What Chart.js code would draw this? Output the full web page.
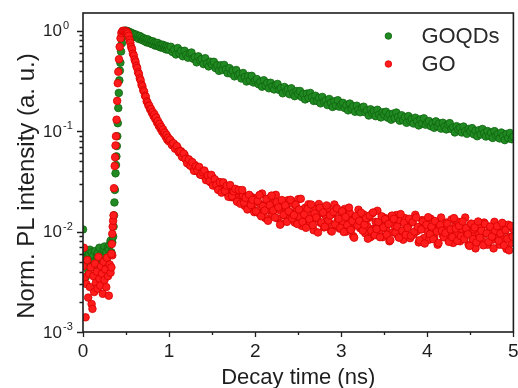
<!DOCTYPE html>
<html>
<head>
<meta charset="utf-8">
<script src="https://cdn.jsdelivr.net/npm/chart.js@4.4.1/dist/chart.umd.min.js"></script>
<style>
  html, body { margin: 0; padding: 0; background: #fff; }
  #wrap { width: 518px; height: 388px; position: relative; }
</style>
</head>
<body>
<div id="wrap"><canvas id="plChart"></canvas></div>
<script>
/* global Chart */

// ---- data (time in ns, normalised PL intensity) ----
var seriesNames = ["GOQDs", "GO"];

var baseTime = [
  0.00, 0.01, 0.02, 0.03, 0.04, 0.05, 0.06, 0.07, 0.08, 0.09,
  0.10, 0.11, 0.12, 0.13, 0.14, 0.15, 0.16, 0.17, 0.18, 0.19,
  0.20, 0.21, 0.22, 0.23, 0.24, 0.25, 0.26, 0.27, 0.28, 0.29,
  0.30, 0.31, 0.32, 0.33, 0.34
];
var goqdsBase = [
  0.0105, 0.0062, 0.0048, 0.0035, 0.0064, 0.0055, 0.0041, 0.0060, 0.0066, 0.0052,
  0.0062, 0.0045, 0.0058, 0.0050, 0.0064, 0.0043, 0.0057, 0.0061, 0.0048, 0.0069,
  0.0054, 0.0059, 0.0047, 0.0052, 0.0066, 0.0071, 0.0058, 0.0063, 0.0050, 0.0069,
  0.0066, 0.0074, 0.0081, 0.0062, 0.0078
];
var goBase = [
  0.0045, 0.0069, 0.0035, 0.0014, 0.0030, 0.0052, 0.0022, 0.0038, 0.0028, 0.0044,
  0.0019, 0.0017, 0.0036, 0.0025, 0.0048, 0.0031, 0.0040, 0.0027, 0.0056, 0.0034,
  0.0029, 0.0045, 0.0038, 0.0024, 0.0050, 0.0033, 0.0042, 0.0028, 0.0055, 0.0036,
  0.0023, 0.0047, 0.0039, 0.0044, 0.0058
];

var goqdsRiseTime = [
  0.350, 0.355, 0.360, 0.365, 0.370, 0.378, 0.383, 0.388, 0.393, 0.398,
  0.404, 0.410, 0.416, 0.422, 0.428, 0.434, 0.442, 0.452, 0.465, 0.478, 0.490
];
var goqdsRise = [
  0.0089, 0.0112, 0.0145, 0.0195, 0.026, 0.038, 0.046, 0.056, 0.071, 0.089,
  0.12, 0.17, 0.24, 0.32, 0.40, 0.48, 0.62, 0.75, 0.87, 0.96, 1.0
];
var goRiseTime = [
  0.330, 0.335, 0.340, 0.345, 0.350, 0.355, 0.360, 0.368, 0.373, 0.378,
  0.383, 0.390, 0.397, 0.404, 0.410, 0.418, 0.426, 0.436, 0.446, 0.458, 0.470, 0.482
];
var goRise = [
  0.0060, 0.0075, 0.0095, 0.0112, 0.0128, 0.0145, 0.027, 0.045, 0.055, 0.072,
  0.089, 0.13, 0.20, 0.30, 0.39, 0.52, 0.69, 0.84, 0.95, 0.99, 1.0, 0.99
];

var decayTime = [
  0.50, 0.51, 0.52, 0.53, 0.54, 0.55, 0.56, 0.57, 0.58, 0.59, 0.60,
  0.61, 0.62, 0.63, 0.64, 0.65, 0.66, 0.67, 0.68, 0.69, 0.70,
  0.71, 0.72, 0.73, 0.74, 0.75, 0.76, 0.77, 0.78, 0.79, 0.80,
  0.81, 0.82, 0.83, 0.84, 0.85, 0.86, 0.87, 0.88, 0.89, 0.90,
  0.91, 0.92, 0.93, 0.94, 0.95, 0.96, 0.97, 0.98, 0.99, 1.00,
  1.02, 1.04, 1.06, 1.08, 1.10, 1.12, 1.14, 1.16, 1.18, 1.20,
  1.22, 1.24, 1.26, 1.28, 1.30, 1.32, 1.34, 1.36, 1.38, 1.40,
  1.42, 1.44, 1.46, 1.48, 1.50, 1.52, 1.54, 1.56, 1.58, 1.60,
  1.62, 1.64, 1.66, 1.68, 1.70, 1.72, 1.74, 1.76, 1.78, 1.80,
  1.82, 1.84, 1.86, 1.88, 1.90, 1.92, 1.94, 1.96, 1.98, 2.00,
  2.02, 2.04, 2.06, 2.08, 2.10, 2.12, 2.14, 2.16, 2.18, 2.20,
  2.22, 2.24, 2.26, 2.28, 2.30, 2.32, 2.34, 2.36, 2.38, 2.40,
  2.42, 2.44, 2.46, 2.48, 2.50, 2.52, 2.54, 2.56, 2.58, 2.60,
  2.62, 2.64, 2.66, 2.68, 2.70, 2.72, 2.74, 2.76, 2.78, 2.80,
  2.82, 2.84, 2.86, 2.88, 2.90, 2.92, 2.94, 2.96, 2.98, 3.00,
  3.02, 3.04, 3.06, 3.08, 3.10, 3.12, 3.14, 3.16, 3.18, 3.20,
  3.22, 3.24, 3.26, 3.28, 3.30, 3.32, 3.34, 3.36, 3.38, 3.40,
  3.42, 3.44, 3.46, 3.48, 3.50, 3.52, 3.54, 3.56, 3.58, 3.60,
  3.62, 3.64, 3.66, 3.68, 3.70, 3.72, 3.74, 3.76, 3.78, 3.80,
  3.82, 3.84, 3.86, 3.88, 3.90, 3.92, 3.94, 3.96, 3.98, 4.00,
  4.02, 4.04, 4.06, 4.08, 4.10, 4.12, 4.14, 4.16, 4.18, 4.20,
  4.22, 4.24, 4.26, 4.28, 4.30, 4.32, 4.34, 4.36, 4.38, 4.40,
  4.42, 4.44, 4.46, 4.48, 4.50, 4.52, 4.54, 4.56, 4.58, 4.60,
  4.62, 4.64, 4.66, 4.68, 4.70, 4.72, 4.74, 4.76, 4.78, 4.80,
  4.82, 4.84, 4.86, 4.88, 4.90, 4.92, 4.94, 4.96, 4.98, 5.00
];
var goqdsDecay = [
  1.00, 0.96, 0.99, 0.94, 0.97, 0.925, 0.955, 0.905, 0.935, 0.885, 0.92,
  0.865, 0.911, 0.858, 0.885, 0.826, 0.886, 0.836, 0.861, 0.803, 0.828,
  0.838, 0.784, 0.818, 0.764, 0.822, 0.768, 0.801, 0.749, 0.781, 0.737,
  0.785, 0.728, 0.760, 0.710, 0.757, 0.715, 0.754, 0.698, 0.722, 0.682,
  0.726, 0.679, 0.723, 0.676, 0.699, 0.653, 0.702, 0.650, 0.685, 0.647,
  0.692, 0.614, 0.651, 0.580, 0.672, 0.596, 0.630, 0.556, 0.631, 0.576,
  0.538, 0.592, 0.606, 0.526, 0.545, 0.484, 0.555, 0.506, 0.523, 0.465,
  0.532, 0.471, 0.441, 0.491, 0.460, 0.490, 0.424, 0.453, 0.398, 0.452,
  0.407, 0.456, 0.412, 0.378, 0.424, 0.374, 0.400, 0.351, 0.406, 0.363,
  0.372, 0.334, 0.379, 0.345, 0.312, 0.354, 0.319, 0.355, 0.305, 0.318,
  0.330, 0.293, 0.310, 0.277, 0.321, 0.285, 0.302, 0.267, 0.303, 0.277,
  0.260, 0.288, 0.295, 0.257, 0.268, 0.238, 0.275, 0.251, 0.261, 0.233,
  0.267, 0.238, 0.223, 0.250, 0.235, 0.251, 0.219, 0.235, 0.207, 0.236,
  0.214, 0.240, 0.218, 0.200, 0.225, 0.200, 0.214, 0.189, 0.219, 0.196,
  0.202, 0.182, 0.209, 0.191, 0.174, 0.198, 0.180, 0.203, 0.175, 0.184,
  0.191, 0.170, 0.181, 0.161, 0.188, 0.167, 0.177, 0.156, 0.179, 0.163,
  0.154, 0.171, 0.175, 0.154, 0.161, 0.143, 0.165, 0.152, 0.158, 0.141,
  0.163, 0.146, 0.137, 0.154, 0.146, 0.156, 0.136, 0.147, 0.130, 0.149,
  0.135, 0.153, 0.138, 0.127, 0.144, 0.128, 0.138, 0.121, 0.141, 0.127,
  0.132, 0.119, 0.136, 0.125, 0.114, 0.131, 0.119, 0.134, 0.116, 0.122,
  0.126, 0.112, 0.120, 0.108, 0.125, 0.112, 0.119, 0.106, 0.121, 0.111,
  0.104, 0.116, 0.120, 0.105, 0.109, 0.097, 0.112, 0.104, 0.108, 0.097,
  0.111, 0.100, 0.094, 0.105, 0.100, 0.107, 0.093, 0.101, 0.089, 0.102,
  0.0926, 0.105, 0.0955, 0.0884, 0.100, 0.0893, 0.0963, 0.0856, 0.0999, 0.0902,
  0.0933, 0.0846, 0.0968, 0.0891, 0.0814, 0.0935, 0.0850, 0.0959, 0.0831, 0.0879
];
var goDecay = [
  0.99, 0.97, 0.94, 0.89, 0.81, 0.76, 0.69, 0.655, 0.59, 0.565, 0.515,
  0.49, 0.445, 0.425, 0.385, 0.37, 0.335, 0.32, 0.29, 0.28, 0.255,
  0.248, 0.225, 0.22, 0.198, 0.193, 0.18, 0.179, 0.165, 0.166, 0.152,
  0.155, 0.141, 0.147, 0.132, 0.137, 0.122, 0.126, 0.113, 0.118, 0.106,
  0.11, 0.099, 0.104, 0.094, 0.097, 0.088, 0.092, 0.082, 0.086, 0.079,
  0.080, 0.072, 0.074, 0.070, 0.068, 0.061, 0.063, 0.055, 0.058, 0.052,
  0.052, 0.046, 0.049, 0.043, 0.046, 0.040, 0.043, 0.037, 0.040, 0.036,
  0.038, 0.033, 0.036, 0.031, 0.035, 0.029, 0.032, 0.028, 0.031, 0.026,
  0.029, 0.025, 0.028, 0.024, 0.027, 0.022, 0.026, 0.025, 0.021, 0.024,
  0.025, 0.020, 0.023, 0.018, 0.022, 0.021, 0.017, 0.022, 0.019, 0.016,
  0.0216, 0.0153, 0.0187, 0.0239, 0.0161, 0.0136, 0.0189, 0.0214, 0.0161, 0.0148,
  0.0192, 0.0232, 0.0135, 0.0164, 0.0121, 0.0191, 0.0145, 0.0173, 0.0205, 0.0135,
  0.0153, 0.0189, 0.0123, 0.0171, 0.0210, 0.0140, 0.0114, 0.0155, 0.0172, 0.0131,
  0.0187, 0.0122, 0.0147, 0.0103, 0.0170, 0.0135, 0.0188, 0.0122, 0.0152, 0.0110,
  0.0144, 0.0170, 0.0122, 0.0102, 0.0150, 0.0186, 0.0114, 0.0130, 0.0107, 0.0152,
  0.0119, 0.0168, 0.0100, 0.0135, 0.0153, 0.0107, 0.0090, 0.0138, 0.0124, 0.0165,
  0.0108, 0.0126, 0.0148, 0.0096, 0.0114, 0.0137, 0.0088, 0.0151, 0.0107, 0.0125,
  0.0161, 0.0097, 0.0115, 0.0088, 0.0137, 0.0107, 0.0124, 0.0080, 0.0141, 0.0098,
  0.0114, 0.0146, 0.0091, 0.0127, 0.0101, 0.0083, 0.0136, 0.0107, 0.0116, 0.0086,
  0.0127, 0.0093, 0.0147, 0.0101, 0.0078, 0.0112, 0.0130, 0.0086, 0.0119, 0.0102,
  0.0083, 0.0134, 0.0104, 0.0089, 0.0119, 0.0074, 0.0112, 0.0138, 0.0093, 0.0106,
  0.0123, 0.0085, 0.0099, 0.0132, 0.0077, 0.0112, 0.0095, 0.0125, 0.0080, 0.0106,
  0.0088, 0.0138, 0.0100, 0.0074, 0.0117, 0.0090, 0.0105, 0.0068, 0.0120, 0.0093,
  0.0111, 0.0080, 0.0123, 0.0095, 0.0074, 0.0111, 0.0098, 0.0083, 0.0125, 0.0087,
  0.0099, 0.0074, 0.0113, 0.0084, 0.0102, 0.0067, 0.0117, 0.0088, 0.0077, 0.0105
];

// GO has the dense noisy tail: the in-between channels
var goTailTime = [
  1.01, 1.03, 1.05, 1.07, 1.09, 1.11, 1.13, 1.15, 1.17, 1.19,
  1.21, 1.23, 1.25, 1.27, 1.29, 1.31, 1.33, 1.35, 1.37, 1.39,
  1.41, 1.43, 1.45, 1.47, 1.49, 1.51, 1.53, 1.55, 1.57, 1.59,
  1.61, 1.63, 1.65, 1.67, 1.69, 1.71, 1.73, 1.75, 1.77, 1.79,
  1.81, 1.83, 1.85, 1.87, 1.89, 1.91, 1.93, 1.95, 1.97, 1.99,
  2.01, 2.03, 2.05, 2.07, 2.09, 2.11, 2.13, 2.15, 2.17, 2.19,
  2.21, 2.23, 2.25, 2.27, 2.29, 2.31, 2.33, 2.35, 2.37, 2.39,
  2.41, 2.43, 2.45, 2.47, 2.49, 2.51, 2.53, 2.55, 2.57, 2.59,
  2.61, 2.63, 2.65, 2.67, 2.69, 2.71, 2.73, 2.75, 2.77, 2.79,
  2.81, 2.83, 2.85, 2.87, 2.89, 2.91, 2.93, 2.95, 2.97, 2.99,
  3.01, 3.03, 3.05, 3.07, 3.09, 3.11, 3.13, 3.15, 3.17, 3.19,
  3.21, 3.23, 3.25, 3.27, 3.29, 3.31, 3.33, 3.35, 3.37, 3.39,
  3.41, 3.43, 3.45, 3.47, 3.49, 3.51, 3.53, 3.55, 3.57, 3.59,
  3.61, 3.63, 3.65, 3.67, 3.69, 3.71, 3.73, 3.75, 3.77, 3.79,
  3.81, 3.83, 3.85, 3.87, 3.89, 3.91, 3.93, 3.95, 3.97, 3.99,
  4.01, 4.03, 4.05, 4.07, 4.09, 4.11, 4.13, 4.15, 4.17, 4.19,
  4.21, 4.23, 4.25, 4.27, 4.29, 4.31, 4.33, 4.35, 4.37, 4.39,
  4.41, 4.43, 4.45, 4.47, 4.49, 4.51, 4.53, 4.55, 4.57, 4.59,
  4.61, 4.63, 4.65, 4.67, 4.69, 4.71, 4.73, 4.75, 4.77, 4.79,
  4.81, 4.83, 4.85, 4.87, 4.89, 4.91, 4.93, 4.95, 4.97, 4.99
];
var goTail = [
  0.0822, 0.0734, 0.0757, 0.0668, 0.0709, 0.0626, 0.0627, 0.0555, 0.0598, 0.0529,
  0.0479, 0.0524, 0.0451, 0.0491, 0.0402, 0.0446, 0.0405, 0.0440, 0.0367, 0.0390,
  0.0405, 0.0325, 0.0361, 0.0318, 0.0367, 0.0287, 0.0332, 0.0292, 0.0260, 0.0310,
  0.0244, 0.0309, 0.0253, 0.0286, 0.0222, 0.0290, 0.0225, 0.0252, 0.0266, 0.0198,
  0.0259, 0.0189, 0.0259, 0.0194, 0.0217, 0.0166, 0.0232, 0.0184, 0.0207, 0.0156,
  0.0159, 0.0202, 0.0231, 0.0142, 0.0179, 0.0162, 0.0210, 0.0128, 0.0183, 0.0228,
  0.0162, 0.0138, 0.0196, 0.0174, 0.0117, 0.0206, 0.0147, 0.0182, 0.0125, 0.0159,
  0.0207, 0.0135, 0.0146, 0.0185, 0.0119, 0.0166, 0.0212, 0.0125, 0.0148, 0.0109,
  0.0169, 0.0133, 0.0186, 0.0116, 0.0152, 0.0138, 0.0098, 0.0172, 0.0123, 0.0155,
  0.0112, 0.0182, 0.0129, 0.0145, 0.0100, 0.0157, 0.0118, 0.0170, 0.0134, 0.0109,
  0.0159, 0.0099, 0.0140, 0.0116, 0.0173, 0.0104, 0.0127, 0.0087, 0.0143, 0.0115,
  0.0128, 0.0154, 0.0102, 0.0117, 0.0136, 0.0085, 0.0144, 0.0102, 0.0155, 0.0092,
  0.0106, 0.0125, 0.0088, 0.0142, 0.0110, 0.0133, 0.0093, 0.0119, 0.0082, 0.0144,
  0.0134, 0.0098, 0.0112, 0.0087, 0.0149, 0.0102, 0.0122, 0.0093, 0.0109, 0.0134,
  0.0091, 0.0124, 0.0100, 0.0138, 0.0111, 0.0082, 0.0105, 0.0126, 0.0076, 0.0117,
  0.0139, 0.0094, 0.0112, 0.0084, 0.0127, 0.0100, 0.0077, 0.0116, 0.0102, 0.0088,
  0.0097, 0.0120, 0.0079, 0.0105, 0.0088, 0.0136, 0.0107, 0.0081, 0.0114, 0.0090,
  0.0126, 0.0084, 0.0108, 0.0094, 0.0072, 0.0120, 0.0084, 0.0110, 0.0078, 0.0126,
  0.0087, 0.0102, 0.0073, 0.0119, 0.0096, 0.0079, 0.0112, 0.0089, 0.0068, 0.0102,
  0.0113, 0.0081, 0.0096, 0.0122, 0.0073, 0.0103, 0.0085, 0.0065, 0.0114, 0.0089
];

// axis ticks
var xMajorTicks = [0, 1, 2, 3, 4, 5];
var xMinorTicks = [0.5, 1.5, 2.5, 3.5, 4.5];
var yExponents = [0, -1, -2, -3];
var xRange = [0, 5];
var yRange = [0.001, 1.5];

var FONT = "'Liberation Sans', Arial, sans-serif";
var INK = "#1e1e1e";

function toPoints(ts, vs) {
  return ts.map(function (t, i) { return { x: t, y: vs[i] }; });
}

var goqdsPts = toPoints(baseTime, goqdsBase)
  .concat(toPoints(goqdsRiseTime, goqdsRise), toPoints(decayTime, goqdsDecay));
var goPts = toPoints(baseTime, goBase)
  .concat(toPoints(goRiseTime, goRise), toPoints(decayTime, goDecay), toPoints(goTailTime, goTail));

var colors = {
  GOQDs: { fill: "rgb(34, 138, 34)", edge: "rgb(14, 100, 14)" },
  GO: { fill: "rgb(255, 28, 28)", edge: "rgb(215, 0, 0)" }
};

// frame, ticks, tick labels, titles and legend
var axisDeco = {
  id: "axisDeco",
  afterDraw: function (chart) {
    var ctx = chart.ctx, a = chart.chartArea;
    var xs = chart.scales.x, ys = chart.scales.y;
    ctx.save();
    ctx.strokeStyle = INK;
    ctx.lineWidth = 1.6;
    ctx.strokeRect(a.left, a.top, a.right - a.left, a.bottom - a.top);

    ctx.lineWidth = 1.3;
    ctx.beginPath();
    xMajorTicks.forEach(function (v) {
      var px = Math.round(xs.getPixelForValue(v)) + 0.5;
      ctx.moveTo(px, a.bottom); ctx.lineTo(px, a.bottom + 5);
    });
    xMinorTicks.forEach(function (v) {
      var px = Math.round(xs.getPixelForValue(v)) + 0.5;
      ctx.moveTo(px, a.bottom); ctx.lineTo(px, a.bottom + 3);
    });
    yExponents.forEach(function (e) {
      var py = Math.round(ys.getPixelForValue(Math.pow(10, e))) + 0.5;
      ctx.moveTo(a.left - 6, py); ctx.lineTo(a.left, py);
      for (var k = 2; k <= 9; k++) {
        var v = k * Math.pow(10, e);
        if (v > yRange[1]) break;
        var pm = Math.round(ys.getPixelForValue(v)) + 0.5;
        ctx.moveTo(a.left - 3.5, pm); ctx.lineTo(a.left, pm);
      }
    });
    ctx.stroke();

    ctx.fillStyle = INK;
    ctx.font = "19px " + FONT;
    ctx.textAlign = "center";
    ctx.textBaseline = "alphabetic";
    xMajorTicks.forEach(function (v) {
      ctx.fillText(String(v), xs.getPixelForValue(v), a.bottom + 25);
    });

    yExponents.forEach(function (e) {
      var py = ys.getPixelForValue(Math.pow(10, e));
      ctx.font = "17px " + FONT;
      ctx.textAlign = "right";
      ctx.textBaseline = "middle";
      ctx.fillText("10", a.left - 21, py + 1);
      ctx.font = "11px " + FONT;
      ctx.textAlign = "left";
      ctx.fillText(String(e), a.left - 20, py - 5);
    });

    ctx.font = "22px " + FONT;
    ctx.textAlign = "center";
    ctx.textBaseline = "alphabetic";
    ctx.fillText("Decay time (ns)", (a.left + a.right) / 2, 384);

    ctx.save();
    ctx.translate(34, 186);
    ctx.rotate(-Math.PI / 2);
    ctx.font = "24px " + FONT;
    ctx.fillText("Norm. PL intensity (a. u.)", 0, 0);
    ctx.restore();

    // legend, top right inside the frame
    seriesNames.forEach(function (name, i) {
      var cy = a.top + 23 + i * 28;
      var mx = a.right - 125;
      ctx.beginPath();
      ctx.arc(mx, cy, 3.3, 0, Math.PI * 2);
      ctx.fillStyle = colors[name].fill;
      ctx.fill();
      ctx.lineWidth = 0.8;
      ctx.strokeStyle = colors[name].edge;
      ctx.stroke();
      ctx.fillStyle = "#2a2a2a";
      ctx.font = "22px " + FONT;
      ctx.textAlign = "left";
      ctx.textBaseline = "middle";
      ctx.fillText(name, mx + 33, cy + 1);
    });
    ctx.restore();
  }
};

function makeDataset(name, pts, order) {
  return {
    label: name,
    data: pts,
    order: order,
    clip: 0,
    pointRadius: 3.8,
    pointHoverRadius: 3.8,
    pointBorderWidth: 0.8,
    pointBackgroundColor: colors[name].fill,
    pointBorderColor: colors[name].edge,
    showLine: false
  };
}

new Chart(document.getElementById("plChart"), {
  type: "scatter",
  data: {
    datasets: [
      makeDataset(seriesNames[0], goqdsPts, 1),
      makeDataset(seriesNames[1], goPts, 0)
    ]
  },
  options: {
    responsive: true,
    maintainAspectRatio: false,
    animation: false,
    devicePixelRatio: 1,
    layout: { padding: { top: 13, right: 1, bottom: 0, left: 0 } },
    plugins: { legend: { display: false }, tooltip: { enabled: false } },
    scales: {
      x: {
        type: "linear",
        min: xRange[0], max: xRange[1],
        ticks: { display: false },
        grid: { display: false },
        border: { display: false },
        afterFit: function (s) { s.height = 56; s.paddingLeft = 0; s.paddingRight = 0; }
      },
      y: {
        type: "logarithmic",
        min: yRange[0], max: yRange[1],
        ticks: { display: false },
        grid: { display: false },
        border: { display: false },
        afterFit: function (s) { s.width = 83; s.paddingTop = 0; s.paddingBottom = 0; }
      }
    }
  },
  plugins: [axisDeco]
});
</script>
</body>
</html>
